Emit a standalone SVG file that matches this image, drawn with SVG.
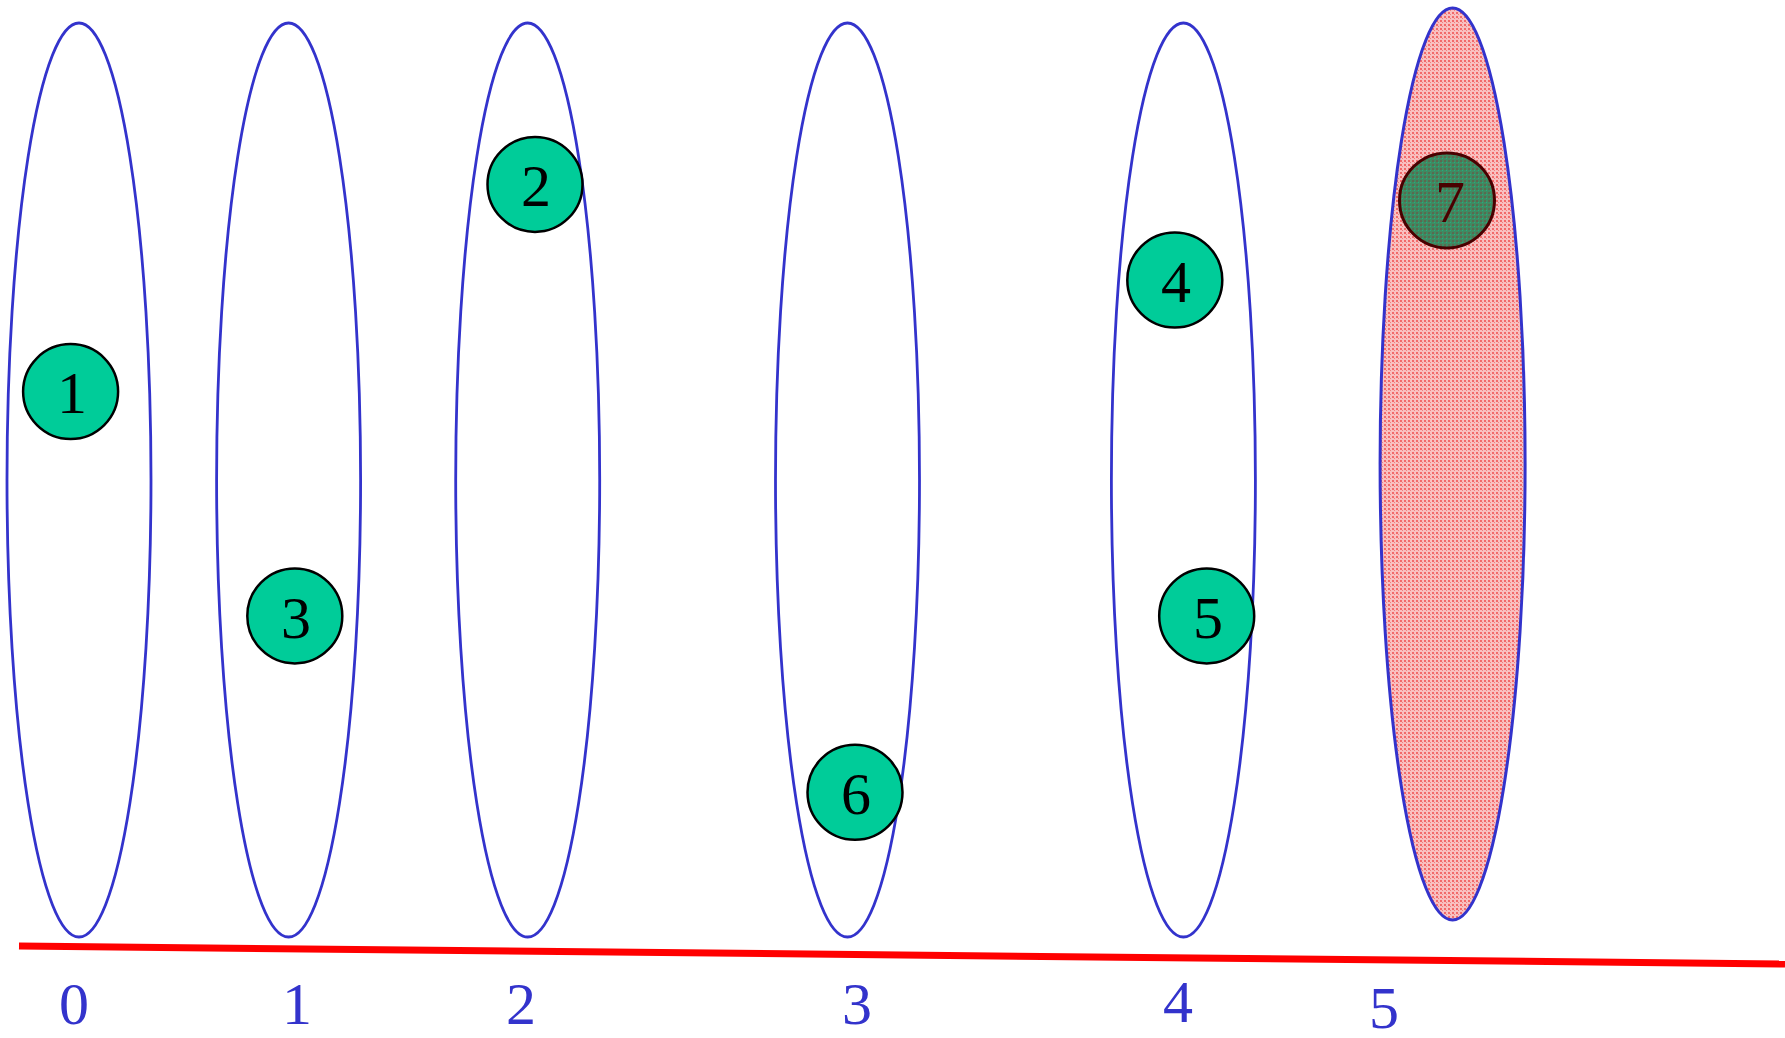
<svg xmlns="http://www.w3.org/2000/svg" width="1785" height="1038" viewBox="0 0 1785 1038">
<defs>
<pattern id="dots" width="4" height="4" patternUnits="userSpaceOnUse">
<rect width="4" height="4" fill="#f9c0c0"/>
<rect x="0" y="0" width="2" height="2" fill="#f26a6a"/>
<rect x="2" y="2" width="1" height="1" fill="#ef8080"/>
</pattern>
<pattern id="dots7" width="4" height="4" patternUnits="userSpaceOnUse">
<rect width="4" height="4" fill="#3f8a62"/>
<rect x="0" y="0" width="2" height="2" fill="#5a6a50"/>
<rect x="2" y="2" width="1" height="1" fill="#20b080"/>
</pattern>
</defs>
<style>
.set{fill:#fff;stroke:#3333cc;stroke-width:2.8}
.setx{fill:url(#dots);stroke:#3333cc;stroke-width:3}
.node{fill:#00cc99;stroke:#000;stroke-width:2.5}
.node7{fill:url(#dots7);stroke:#4a0000;stroke-width:3}
.nt{font-family:"Liberation Serif","Times New Roman",serif;font-size:60px;fill:#000;text-anchor:middle}
.nt7{fill:#4a0000}
.lab{font-family:"Liberation Serif","Times New Roman",serif;font-size:60px;fill:#3333cc;text-anchor:middle}
</style>
<g id="sets">
<ellipse id="set0" class="set" cx="79" cy="480" rx="72" ry="457"/>
<ellipse id="set1" class="set" cx="288.6" cy="480" rx="72" ry="457"/>
<ellipse id="set2" class="set" cx="527.7" cy="480" rx="72" ry="457"/>
<ellipse id="set3" class="set" cx="847.5" cy="480" rx="72" ry="457"/>
<ellipse id="set4" class="set" cx="1183.4" cy="480" rx="72" ry="457"/>
</g>
<g id="connectors">
<line x1="19" y1="946" x2="1785" y2="964" stroke="#ff0000" stroke-width="7"/>
</g>
<g id="n1"><circle class="node" cx="70.6" cy="391.6" r="47.5"/><text class="nt" x="72" y="413">1</text></g>
<g id="n2"><circle class="node" cx="535" cy="184.4" r="47.5"/><text class="nt" x="536" y="206">2</text></g>
<g id="n3"><circle class="node" cx="294.8" cy="615.9" r="47.5"/><text class="nt" x="296" y="638">3</text></g>
<g id="n4"><circle class="node" cx="1174.8" cy="280" r="47.5"/><text class="nt" x="1176" y="302">4</text></g>
<g id="n5"><circle class="node" cx="1206.7" cy="615.9" r="47.5"/><text class="nt" x="1208" y="638">5</text></g>
<g id="n6"><circle class="node" cx="855" cy="792.3" r="47.5"/><text class="nt" x="856" y="814">6</text></g>
<g id="set5">
<ellipse class="setx" cx="1452.6" cy="464" rx="72.5" ry="456"/>
</g>
<g id="n7"><circle class="node7" cx="1447" cy="200.4" r="47.5"/><text class="nt nt7" x="1450" y="222">7</text></g>
<g id="labels">
<text class="lab" x="74" y="1024">0</text>
<text class="lab" x="297" y="1024">1</text>
<text class="lab" x="521" y="1024">2</text>
<text class="lab" x="857" y="1024">3</text>
<text class="lab" x="1178" y="1022">4</text>
<text class="lab" x="1384" y="1028">5</text>
</g>
</svg>
